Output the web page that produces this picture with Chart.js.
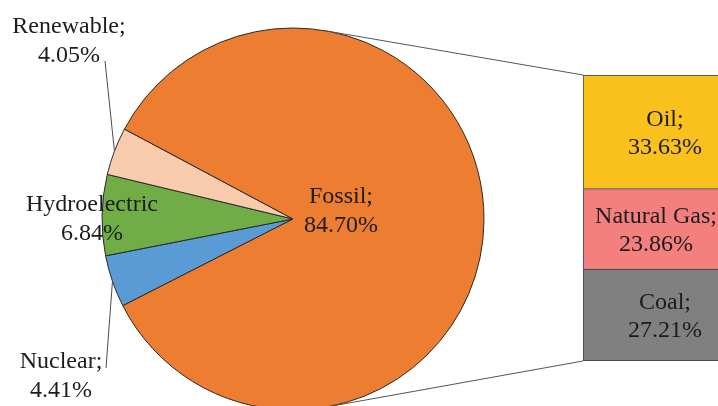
<!DOCTYPE html>
<html><head><meta charset="utf-8">
<script src="https://cdn.jsdelivr.net/npm/chart.js@4.4.1/dist/chart.umd.min.js"></script>
<style>
html,body{margin:0;padding:0;background:#fff;overflow:hidden;}
#wrap{position:relative;width:718px;height:406px;overflow:hidden;background:#fff;}
canvas{position:absolute;left:0;top:0;}
</style></head><body>
<div id="wrap">
<canvas id="pie" width="718" height="406"></canvas>
<canvas id="bar" width="760" height="406"></canvas>
</div>
<script>
// ---- data ----
const pieCategories = ['Nuclear', 'Hydroelectric', 'Renewable', 'Fossil'];
const pieLabelNames = ['Nuclear;', 'Hydroelectric', 'Renewable;', 'Fossil;'];
const pieValues = [4.41, 6.84, 4.05, 84.70];
const barCategories = ['Coal', 'Natural Gas', 'Oil'];
const barLabelNames = ['Coal;', 'Natural Gas;', 'Oil;'];
const barValues = [27.21, 23.86, 33.63];
const fossilTotal = 84.70;

// ---- styles ----
const pieColors = ['#5B9BD5', '#70AD47', '#F8CBAD', '#ED7D31'];
const barColors = ['#808080', '#F47F7F', '#FAC11D'];
const FONT = "'Liberation Serif', 'Times New Roman', serif";
const TEXT_COLOR = '#1c1c1c';
const LINE = 28.5;
Chart.defaults.font.family = FONT;

// label placement relative to pie centre (text centre x, first baseline y), leader start
const pieLabelPos = [
  {dx: -232, dy: 149, leader: [-187, 149]},
  {dx: -201, dy: -8},
  {dx: -224, dy: -186, leader: [-188, -158]},
  {dx: 48, dy: -16}
];

const pieLabelPlugin = {
  id: 'pieLabels',
  afterDatasetsDraw(chart) {
    const ctx = chart.ctx;
    const arcs = chart.getDatasetMeta(0).data;
    const cx = arcs[0].x, cy = arcs[0].y;
    ctx.save();
    arcs.forEach((arc, i) => {
      const p = pieLabelPos[i];
      if (p.leader) {
        const mid = (arc.startAngle + arc.endAngle) / 2;
        ctx.beginPath();
        ctx.moveTo(cx + p.leader[0], cy + p.leader[1]);
        ctx.lineTo(cx + Math.cos(mid) * arc.outerRadius, cy + Math.sin(mid) * arc.outerRadius);
        ctx.strokeStyle = '#4a4a4a';
        ctx.lineWidth = 1;
        ctx.stroke();
      }
    });
    ctx.font = '24px ' + FONT;
    ctx.fillStyle = TEXT_COLOR;
    ctx.textAlign = 'center';
    ctx.textBaseline = 'alphabetic';
    arcs.forEach((arc, i) => {
      const p = pieLabelPos[i];
      const x = cx + p.dx, y = cy + p.dy;
      ctx.fillText(pieLabelNames[i], x, y);
      ctx.fillText(pieValues[i].toFixed(2) + '%', x, y + LINE);
    });
    ctx.restore();
  }
};

const pieChart = new Chart(document.getElementById('pie'), {
  type: 'pie',
  data: {
    labels: pieCategories,
    datasets: [{
      data: pieValues,
      backgroundColor: pieColors,
      borderColor: '#2a2a2a',
      borderWidth: 1,
      clip: false,
      radius: 191,
      rotation: 243
    }]
  },
  options: {
    responsive: false,
    animation: false,
    rotation: 243,
    radius: 191,
    layout: {padding: {left: 0, right: 132, top: 32, bottom: 0}},
    plugins: {legend: {display: false}, tooltip: {enabled: false}}
  },
  plugins: [pieLabelPlugin]
});

const barPlugin = {
  id: 'barExtras',
  afterDatasetsDraw(chart) {
    const ctx = chart.ctx;
    ctx.save();
    // connector lines from pie (tangent) to bar corners
    const pieArc = pieChart.getDatasetMeta(0).data[0];
    const cx = pieArc.x, cy = pieArc.y, R = pieArc.outerRadius;
    const topEl = chart.getDatasetMeta(barValues.length - 1).data[0];
    const botEl = chart.getDatasetMeta(0).data[0];
    const corners = [
      [topEl.x - topEl.width / 2, topEl.y, -1],
      [botEl.x - botEl.width / 2, botEl.base, 1]
    ];
    corners.forEach(([px, py, s]) => {
      const d = Math.hypot(px - cx, py - cy);
      const th = Math.atan2(py - cy, px - cx);
      const t = th + s * Math.acos(R / d);
      ctx.beginPath();
      ctx.moveTo(cx + R * Math.cos(t), cy + R * Math.sin(t));
      ctx.lineTo(px, py);
      ctx.strokeStyle = '#555555';
      ctx.lineWidth = 1;
      ctx.stroke();
    });
    // labels
    ctx.font = '24px ' + FONT;
    ctx.fillStyle = TEXT_COLOR;
    ctx.textAlign = 'center';
    ctx.textBaseline = 'alphabetic';
    const maxX = 717;
    barValues.forEach((v, i) => {
      const el = chart.getDatasetMeta(i).data[0];
      const l1 = barLabelNames[i], l2 = v.toFixed(2) + '%';
      const w = Math.max(ctx.measureText(l1).width, ctx.measureText(l2).width);
      let xc = el.x;
      if (xc + w / 2 > maxX) xc = maxX - w / 2;
      const yc = (el.y + el.base) / 2;
      ctx.fillText(l1, xc, yc - LINE / 2 + 8);
      ctx.fillText(l2, xc, yc + LINE / 2 + 8);
    });
    ctx.restore();
  }
};

const barChart = new Chart(document.getElementById('bar'), {
  type: 'bar',
  data: {
    labels: ['Fossil'],
    datasets: barCategories.map((c, i) => ({
      label: c,
      data: [barValues[i]],
      backgroundColor: barColors[i],
      borderColor: '#3a3a3a',
      borderWidth: i === 0 ? {top: 1, left: 1, right: 1, bottom: 1} : {top: 1, left: 1, right: 1, bottom: 0},
      borderSkipped: false,
      categoryPercentage: 1,
      barPercentage: 1
    }))
  },
  options: {
    responsive: false,
    animation: false,
    layout: {padding: {left: 583, right: 13, top: 75, bottom: 45}},
    scales: {
      x: {stacked: true, display: false},
      y: {stacked: true, display: false, min: 0, max: fossilTotal}
    },
    plugins: {legend: {display: false}, tooltip: {enabled: false}}
  },
  plugins: [barPlugin]
});
</script>
</body></html>
